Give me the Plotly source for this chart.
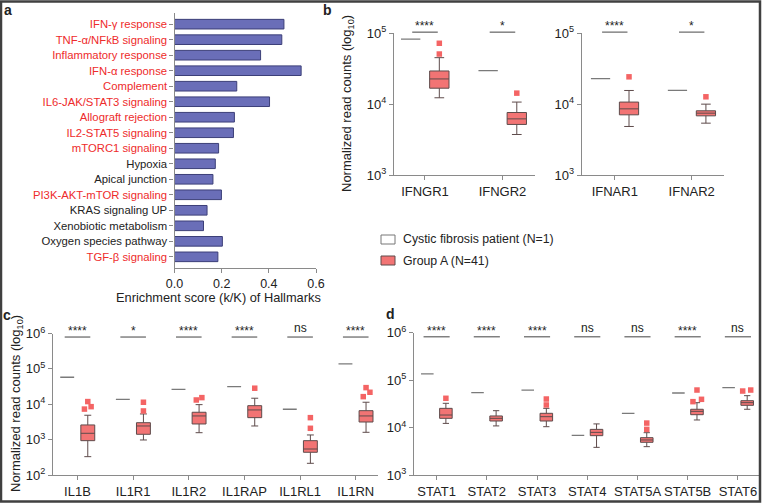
import plotly.graph_objects as go

# ---------------- DATA ----------------
hallmarks = ["IFN-γ response", "TNF-α/NFkB signaling", "Inflammatory response", "IFN-α response",
             "Complement", "IL6-JAK/STAT3 signaling", "Allograft rejection", "IL2-STAT5 signaling",
             "mTORC1 signaling", "Hypoxia", "Apical junction", "PI3K-AKT-mTOR signaling",
             "KRAS signaling UP", "Xenobiotic metabolism", "Oxygen species pathway", "TGF-β signaling"]
enrichment = [0.464, 0.455, 0.365, 0.537, 0.264, 0.403, 0.254, 0.250,
              0.187, 0.173, 0.163, 0.199, 0.138, 0.123, 0.203, 0.184]
immune_related = [True, True, True, True, True, True, True, True,
                  True, False, False, True, False, False, False, True]

ifngr_genes = ["IFNGR1", "IFNGR2"]
ifngr_patient = [83000, 29700]
ifngr_q1 = [16800, 5170]
ifngr_median = [22700, 6200]
ifngr_q3 = [29400, 7620]
ifngr_low = [12300, 3730]
ifngr_high = [45300, 10700]
ifngr_outliers = [[72300, 51000], [14300]]
ifngr_sig = ["****", "*"]

ifnar_genes = ["IFNAR1", "IFNAR2"]
ifnar_patient = [22900, 15600]
ifnar_q1 = [7070, 6840]
ifnar_median = [8590, 7460]
ifnar_q3 = [10700, 8060]
ifnar_low = [4840, 5390]
ifnar_high = [15600, 10000]
ifnar_outliers = [[24300], [12700]]
ifnar_sig = ["****", "*"]

il1_genes = ["IL1B", "IL1R1", "IL1R2", "IL1RAP", "IL1RL1", "IL1RN"]
il1_patient = [58000, 13800, 26500, 31500, 7230, 138000]
il1_q1 = [935, 1415, 2770, 4180, 439, 3150]
il1_median = [1510, 2430, 4670, 6900, 543, 4670]
il1_q3 = [2600, 3010, 5940, 9120, 935, 6590]
il1_low = [330, 977, 1570, 2430, 214, 1610]
il1_high = [4890, 5320, 9750, 14800, 1355, 11400]
il1_outliers = [[7300, 11900, 8550], [11400, 6460], [13200, 15400], [28400], [4180, 2090], [16400, 29500, 21800]]
il1_sig = ["****", "*", "****", "****", "ns", "****"]

stat_genes = ["STAT1", "STAT2", "STAT3", "STAT4", "STAT5A", "STAT5B", "STAT6"]
stat_patient = [134000, 54000, 61500, 6840, 19900, 53200, 69000]
stat_q1 = [15600, 13700, 13700, 6730, 4880, 18600, 29300]
stat_median = [18300, 15600, 16900, 7900, 5460, 21900, 33300]
stat_q3 = [25300, 17500, 19900, 9140, 6110, 24200, 36700]
stat_low = [12200, 10800, 10400, 3820, 3950, 14400, 24200]
stat_high = [32300, 22600, 25300, 11900, 7780, 33300, 46800]
stat_outliers = [[41200], [], [39800, 29800], [], [12400, 9140], [35000, 61500, 39200], [58600, 61500]]
stat_sig = ["****", "****", "****", "ns", "ns", "****", "ns"]

# ---------------- STYLE ----------------
W, H = 763, 503
def px(x): return x / W
def py(y): return 1 - y / H

FONT = "Liberation Sans, Arial, sans-serif"
RED_TXT = "#ee2b2b"
TXT = "#222222"
BAR = "#6a6eb8"
BAR_LINE = "#3c3f78"
BOX_FILL = "#f27474"
BOX_LINE = "#5e4b4b"
OUT = "#f46464"
AXIS = "#8a8a8a"
PATIENT = "#7a7a7a"
SIGC = "#6e6e6e"
OFF = 0.185      # horizontal offset patient / box
PW = 0.25        # patient line width (units)
BW = 0.25        # box width (units)

# small horizontal spread of outlier markers (style only)
il1_jit = [[-0.06, 0.0, 0.06], [0, 0], [-0.05, 0.05], [0], [0, 0], [-0.05, 0.0, 0.07]]
stat_jit = [[0], [], [0, 0], [], [0, 0], [-0.08, 0.0, 0.09], [-0.09, 0.07]]
ifngr_jit = [[0, 0], [0]]
ifnar_jit = [[0], [0]]

fig = go.Figure()

# ---------------- PANEL A ----------------
fig.add_trace(go.Bar(x=enrichment, y=hallmarks, orientation="h", width=0.62,
                     marker=dict(color=BAR, line=dict(color=BAR_LINE, width=1)),
                     xaxis="x", yaxis="y", hoverinfo="x+y"))
ticktext_a = [f'<span style="color:{RED_TXT}">{h}</span>' if r else h
              for h, r in zip(hallmarks, immune_related)]

shapes = []
annotations = []

def add_group(xa, ya, genes, patient, q1, med, q3, lo, hi, outliers, jit, sig, sig_half, sig_y):
    xs, ys = [], []
    for i, v in enumerate(patient):
        c = i - OFF
        xs += [c - PW / 2, c + PW / 2, None]
        ys += [v, v, None]
    fig.add_trace(go.Scatter(x=xs, y=ys, mode="lines", line=dict(color=PATIENT, width=1.3),
                             xaxis=xa, yaxis=ya, hoverinfo="skip"))
    fig.add_trace(go.Box(x=[i + OFF for i in range(len(genes))], q1=q1, median=med, q3=q3,
                         lowerfence=lo, upperfence=hi, width=BW, whiskerwidth=0.5,
                         fillcolor=BOX_FILL, line=dict(color=BOX_LINE, width=1),
                         boxpoints=False, xaxis=xa, yaxis=ya))
    ox, oy = [], []
    for i, (vals, js) in enumerate(zip(outliers, jit)):
        for v, j in zip(vals, js):
            ox.append(i + OFF + j)
            oy.append(v)
    fig.add_trace(go.Scatter(x=ox, y=oy, mode="markers",
                             marker=dict(symbol="square", size=5.5, color=OUT),
                             xaxis=xa, yaxis=ya, cliponaxis=False))
    xr = "x" + xa[1:]
    yr = "y" + ya[1:] + " domain"
    for i, s in enumerate(sig):
        shapes.append(dict(type="line", xref=xr, yref=yr, x0=i - sig_half, x1=i + sig_half,
                           y0=sig_y, y1=sig_y, line=dict(color=SIGC, width=1.3)))
        annotations.append(dict(text=s, x=i, y=sig_y, xref=xr, yref=yr, showarrow=False,
                                xanchor="center", yanchor="bottom",
                                yshift=-3 if s != "ns" else 0,
                                font=dict(size=12, color=TXT, family=FONT)))

add_group("x2", "y2", ifngr_genes, ifngr_patient, ifngr_q1, ifngr_median, ifngr_q3,
          ifngr_low, ifngr_high, ifngr_outliers, ifngr_jit, ifngr_sig, 0.165, 1.008)
add_group("x3", "y3", ifnar_genes, ifnar_patient, ifnar_q1, ifnar_median, ifnar_q3,
          ifnar_low, ifnar_high, ifnar_outliers, ifnar_jit, ifnar_sig, 0.165, 1.008)
add_group("x4", "y4", il1_genes, il1_patient, il1_q1, il1_median, il1_q3,
          il1_low, il1_high, il1_outliers, il1_jit, il1_sig, 0.23, 0.975)
add_group("x5", "y5", stat_genes, stat_patient, stat_q1, stat_median, stat_q3,
          stat_low, stat_high, stat_outliers, stat_jit, stat_sig, 0.26, 0.97)

# ---------------- AXES ----------------
base_ax = dict(showline=True, linecolor=AXIS, linewidth=1.3, ticks="outside", ticklen=4,
               tickcolor=AXIS, tickwidth=1.2, showgrid=False, zeroline=False,
               automargin=False, tickangle=0,
               tickfont=dict(family=FONT, size=12, color=TXT))

def logax(domain, rng, anchor):
    vals = [10 ** k for k in range(rng[0], rng[1] + 1)]
    txt = [f"10<sup>{k}</sup>" for k in range(rng[0], rng[1] + 1)]
    d = dict(base_ax)
    d.update(domain=domain, type="log", range=list(rng), tickvals=vals, ticktext=txt, anchor=anchor,
             tickfont=dict(family=FONT, size=13, color=TXT))
    return d

def catax(domain, rng, genes, anchor):
    d = dict(base_ax)
    d.update(domain=domain, range=rng, tickvals=list(range(len(genes))), ticktext=genes, anchor=anchor,
             tickfont=dict(family=FONT, size=13, color=TXT))
    return d

xa = dict(base_ax)
xa.update(domain=[px(174.5), px(316)], range=[0, 0.6], dtick=0.2, tickformat=".1f", anchor="y",
          tickfont=dict(family=FONT, size=12.5, color=TXT))
ya = dict(base_ax)
ya.update(domain=[py(268), py(13)], type="category", categoryorder="array", categoryarray=hallmarks,
          range=[15.72, -0.72], tickvals=hallmarks, ticktext=ticktext_a, anchor="x",
          tickfont=dict(family=FONT, size=11.3, color=TXT))

fig.update_layout(
    xaxis=xa, yaxis=ya,
    xaxis2=catax([px(394), px(535)], [-0.4, 1.42], ifngr_genes, "y2"),
    yaxis2=logax([py(175), py(33.3)], (3, 5), "x2"),
    xaxis3=catax([px(581.7), px(724)], [-0.43, 1.42], ifnar_genes, "y3"),
    yaxis3=logax([py(175), py(33.3)], (3, 5), "x3"),
    xaxis4=catax([px(53), px(378)], [-0.44, 5.40], il1_genes, "y4"),
    yaxis4=logax([py(475), py(333.5)], (2, 6), "x4"),
    xaxis5=catax([px(414), px(759)], [-0.45, 6.42], stat_genes, "y5"),
    yaxis5=logax([py(475), py(332.5)], (3, 6), "x5"),
)

# ---------------- TEXT / LEGEND / FRAME ----------------
def ann(text, x, y, size=12, bold=False, angle=0, xanchor="center", color=TXT):
    t = f"<b>{text}</b>" if bold else text
    annotations.append(dict(text=t, x=px(x), y=py(y), xref="paper", yref="paper", showarrow=False,
                            xanchor=xanchor, yanchor="middle", textangle=angle,
                            font=dict(family=FONT, size=size, color=color)))

ann("a", 2, 10, size=14, bold=True, xanchor="left")
ann("b", 321, 10, size=14, bold=True, xanchor="left")
ann("c", 1, 315, size=14, bold=True, xanchor="left")
ann("d", 384, 314, size=14, bold=True, xanchor="left")
ann("Enrichment score (k/K) of Hallmarks", 218, 297.5, size=12.8)
ann("Normalized read counts (log<sub>10</sub>)", 348, 104, size=13, angle=-90)
ann("Normalized read counts (log<sub>10</sub>)", 16, 404, size=13, angle=-90)
ann("Cystic fibrosis patient (N=1)", 401, 239.5, size=12.3, xanchor="left")
ann("Group A (N=41)", 401, 260.5, size=12.3, xanchor="left")

shapes.append(dict(type="rect", xref="paper", yref="paper", x0=px(381), x1=px(395),
                   y0=py(244), y1=py(235), fillcolor="white", line=dict(color="#777", width=1)))
shapes.append(dict(type="rect", xref="paper", yref="paper", x0=px(381), x1=px(395),
                   y0=py(265), y1=py(256), fillcolor=BOX_FILL, line=dict(color=BOX_LINE, width=1)))
shapes.append(dict(type="rect", xref="paper", yref="paper", x0=px(1), x1=px(760),
                   y0=py(501.5), y1=py(1.5), line=dict(color="#404040", width=2.5)))

fig.update_layout(width=W, height=H, margin=dict(l=0, r=0, t=0, b=0),
                  paper_bgcolor="white", plot_bgcolor="white", showlegend=False,
                  font=dict(family=FONT, color=TXT), shapes=shapes, annotations=annotations)

fig.write_html("out.html", config={"displayModeBar": False},
               post_script="document.body.style.margin='0';document.body.style.padding='0';"
                           "document.body.style.overflow='hidden';")
